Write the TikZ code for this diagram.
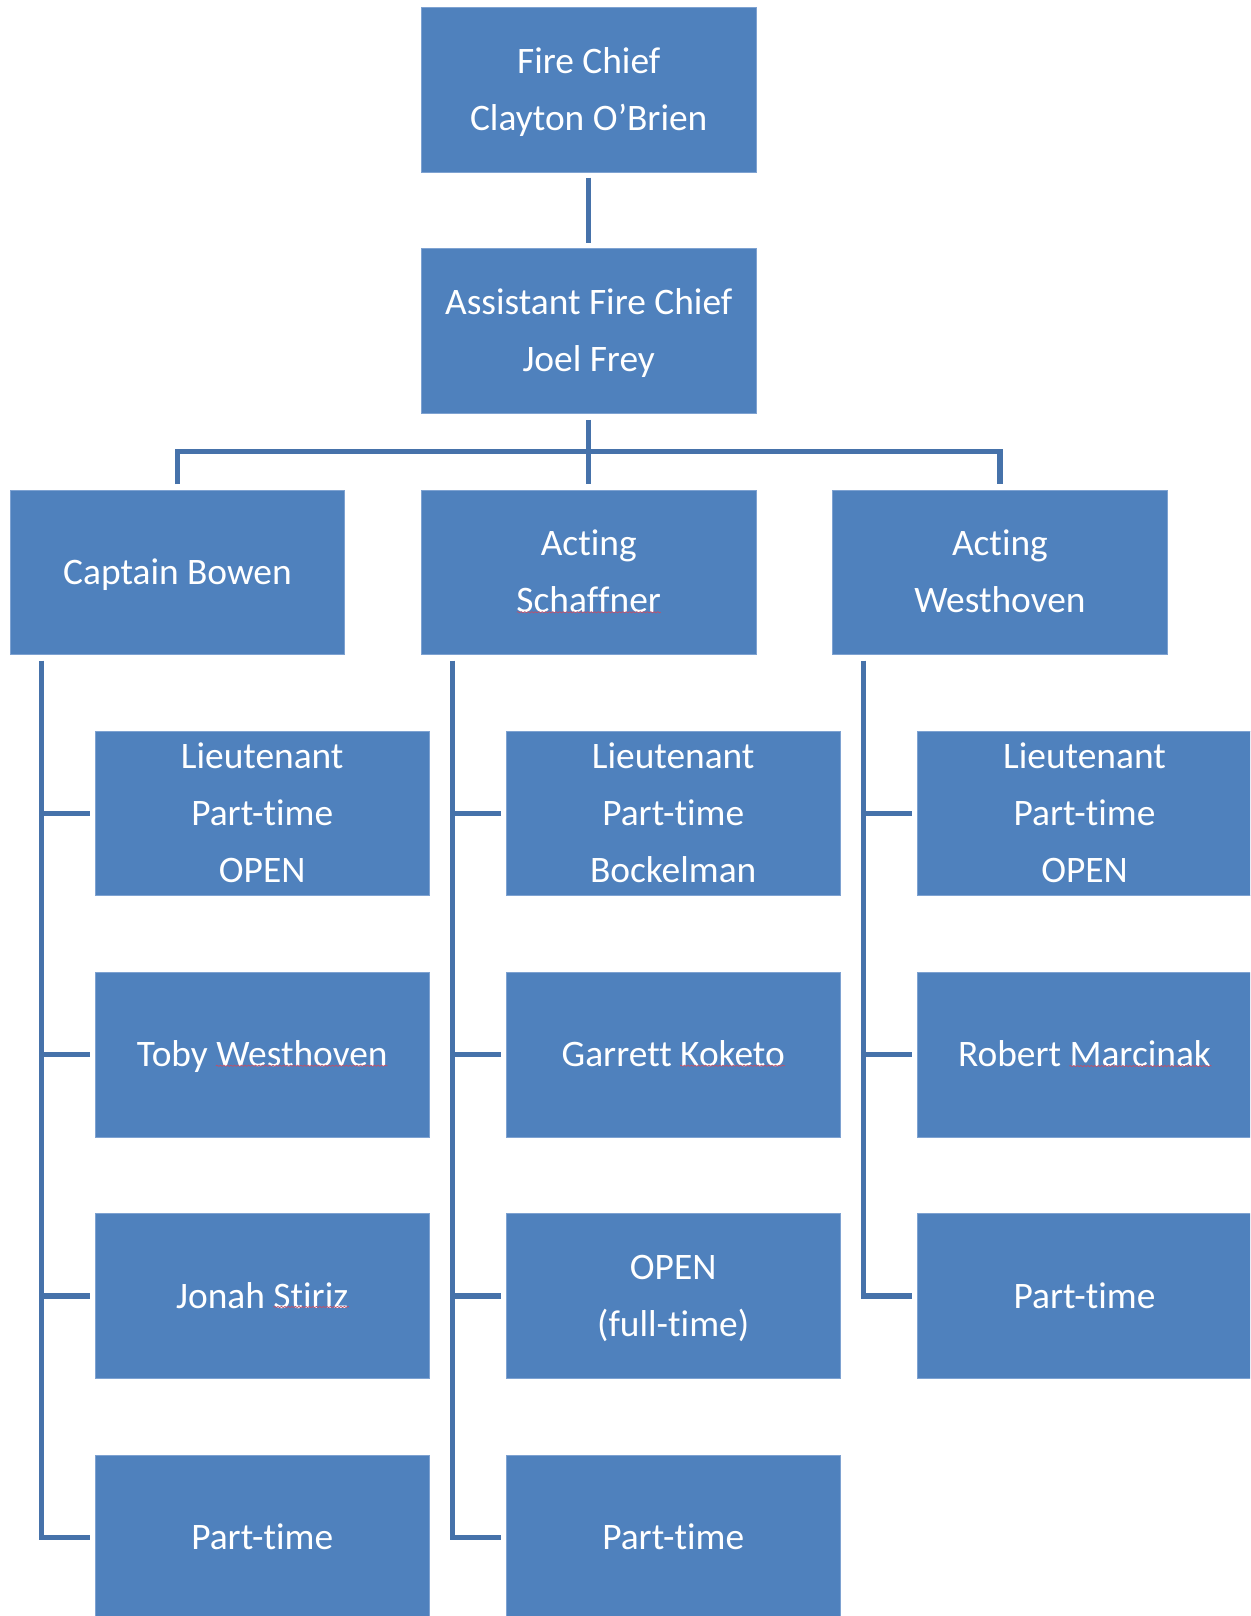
\documentclass[tikz,border=0pt]{standalone}
\usepackage{fontspec}
\setmainfont{Carlito}[Ligatures={NoCommon,NoContextual},Contextuals=NoAlternate]
\usetikzlibrary{calc,decorations.pathmorphing}
\definecolor{boxblue}{HTML}{4F81BD}
\definecolor{boxedge}{HTML}{7EA2D1}
\definecolor{linkblue}{HTML}{4672AA}
\definecolor{squigred}{HTML}{C0506A}
\newcommand\nolg{\kern0pt{}}
\tikzset{
  orgbox/.style={rectangle, fill=boxblue, draw=boxedge, line width=0.8pt,
    minimum width=334.4pt, minimum height=164.5pt, inner sep=0pt,
    text=white, align=center, text height=24.1pt, text depth=0pt,
    font=\fontsize{37.4}{56.7}\selectfont},
  twolines/.style={text height=80.8pt},
  threelines/.style={text height=137.5pt},
  link/.style={draw=linkblue, line width=5.2pt, line join=miter, line cap=butt},
  squig/.style={draw=squigred, line width=0.7pt,
    decorate, decoration={snake, amplitude=0.6pt, segment length=3.5pt}}
}
\begin{document}
\begin{tikzpicture}[x=1pt,y=-1pt]
\useasboundingbox (0,0) rectangle (1250,1616);
\clip (0,0) rectangle (1250,1616);
\fill[white] (0,0) rectangle (1250,1616);

% top levels
\node[orgbox,twolines] (fc) at (588.7,89.75) {Fire Chief\\Clayton O’Brien};
\node[orgbox,twolines] (ac) at (588.7,331) {Assistant Fire Chief\\Joel Frey};

% second level
\node[orgbox] (c1) at (177.5,572.25) {Captain Bowen};
\node[orgbox,twolines] (c2) at (588.7,572.25) {Act\nolg ing\\Schaf\nolg fner};
\node[orgbox,twolines] (c3) at (999.9,572.25) {Act\nolg ing\\Westhoven};

% children, column 1
\node[orgbox,threelines] (k11) at (262.2,813.5) {Lieutenant\\Part-t\nolg ime\\OPEN};
\node[orgbox] (k12) at (262.2,1054.75) {Toby Westhoven};
\node[orgbox] (k13) at (262.2,1296) {Jonah Stiriz};
\node[orgbox] (k14) at (262.2,1537.25) {Part-t\nolg ime};

% children, column 2
\node[orgbox,threelines] (k21) at (673.2,813.5) {Lieutenant\\Part-t\nolg ime\\Bockelman};
\node[orgbox] (k22) at (673.2,1054.75) {Garrett Koketo};
\node[orgbox,twolines] (k23) at (673.2,1296) {OPEN\\(full-t\nolg ime)};
\node[orgbox] (k24) at (673.2,1537.25) {Part-t\nolg ime};

% children, column 3
\node[orgbox,threelines] (k31) at (1084.5,813.5) {Lieutenant\\Part-t\nolg ime\\OPEN};
\node[orgbox] (k32) at (1084.5,1054.75) {Robert Marcinak};
\node[orgbox] (k33) at (1084.5,1296) {Part-t\nolg ime};

% spell-check underlines
\draw[squig] ($(c2.center)+(-72,40)$) -- ($(c2.center)+(72,40)$);
\draw[squig] ($(k12.center)+(-46.2,11)$) -- ($(k12.center)+(125.5,11)$);
\draw[squig] ($(k13.center)+(11.1,11)$) -- ($(k13.center)+(86.8,11)$);
\draw[squig] ($(k22.center)+(6.8,11)$) -- ($(k22.center)+(111.8,11)$);
\draw[squig] ($(k32.center)+(-15.2,11.3)$) -- ($(k32.center)+(127.2,11.3)$);

% connectors, top
\draw[link] ($(fc.south)+(0,5.3)$) -- ($(ac.north)+(0,-5)$);
\coordinate (bar) at (588.7,451.6);
\draw[link] ($(ac.south)+(0,6.2)$) -- ($(c2.north)+(0,-5.5)$);
\draw[link] ($(c1.north)+(0,-5.5)$) |- (bar) -| ($(c3.north)+(0,-5.5)$);

% branch tops
\coordinate (b1) at ($(c1.south west)+(31.4,5.7)$);
\coordinate (b2) at ($(c2.south west)+(31.4,5.7)$);
\coordinate (b3) at ($(c3.south west)+(31.4,5.7)$);

% column 1 branch
\draw[link] (b1) -- (b1 |- k14.west) -- ($(k14.west)+(-5,0)$);
\draw[link] (b1 |- k11.west) -- ($(k11.west)+(-5,0)$);
\draw[link] (b1 |- k12.west) -- ($(k12.west)+(-5,0)$);
\draw[link] (b1 |- k13.west) -- ($(k13.west)+(-5,0)$);

% column 2 branch
\draw[link] (b2) -- (b2 |- k24.west) -- ($(k24.west)+(-5,0)$);
\draw[link] (b2 |- k21.west) -- ($(k21.west)+(-5,0)$);
\draw[link] (b2 |- k22.west) -- ($(k22.west)+(-5,0)$);
\draw[link] (b2 |- k23.west) -- ($(k23.west)+(-5,0)$);

% column 3 branch
\draw[link] (b3) -- (b3 |- k33.west) -- ($(k33.west)+(-5,0)$);
\draw[link] (b3 |- k31.west) -- ($(k31.west)+(-5,0)$);
\draw[link] (b3 |- k32.west) -- ($(k32.west)+(-5,0)$);
\end{tikzpicture}
\end{document}
